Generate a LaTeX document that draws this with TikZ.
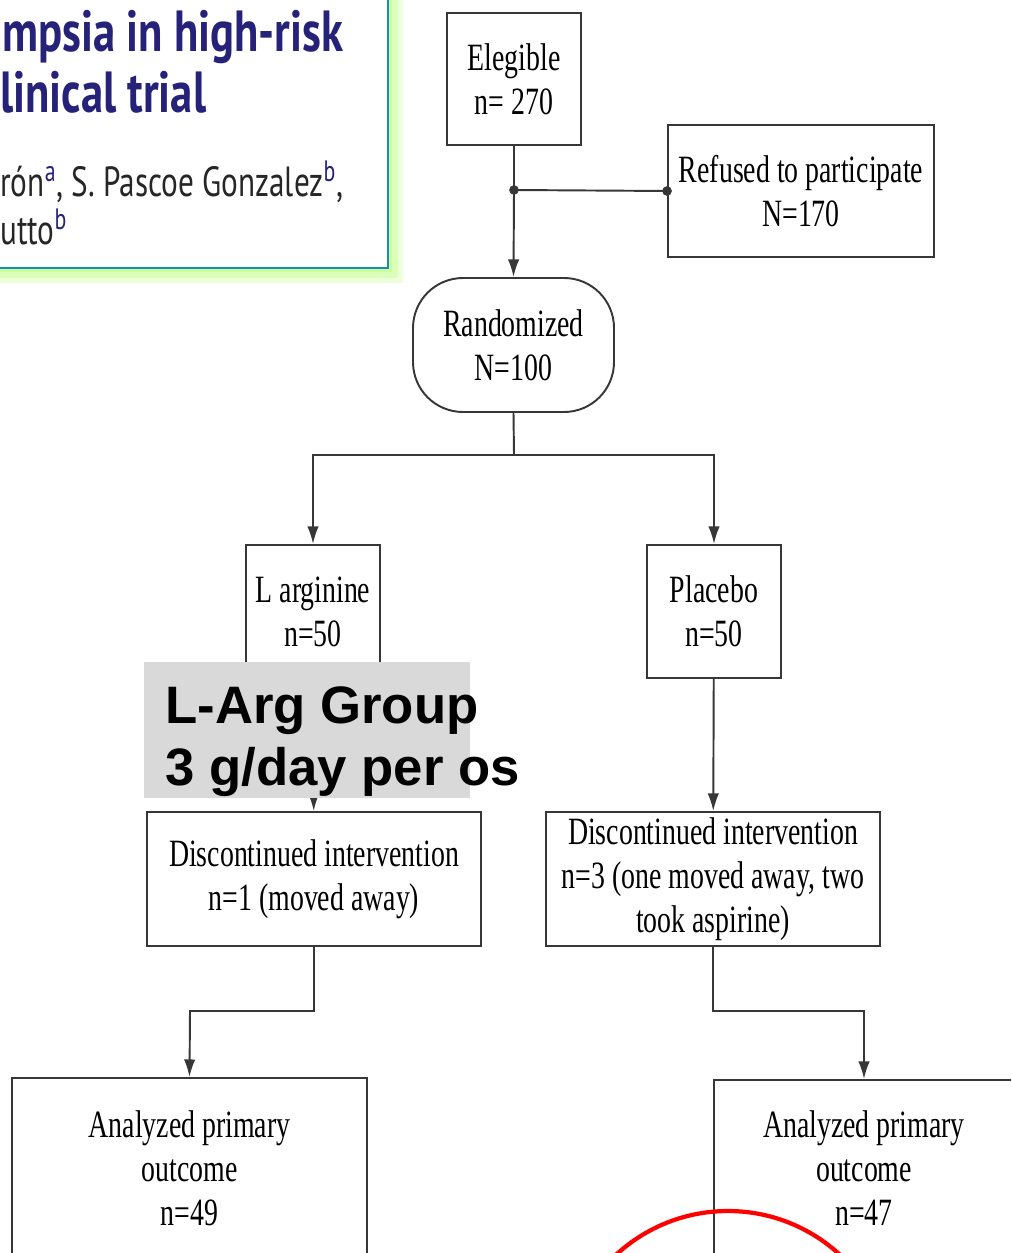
\documentclass[tikz,border=0pt]{standalone}
\usepackage{fontspec}
\usetikzlibrary{arrows.meta}
\newfontfamily\trialfont[FakeStretch=0.72]{Liberation Serif}
\newfontfamily\titlefont[FakeStretch=0.77]{PT Sans}
\newfontfamily\authorfont[FakeStretch=0.74]{PT Sans}
\newfontfamily\notefont{Liberation Sans}
\definecolor{linegray}{RGB}{55,55,55}
\definecolor{titleblue}{RGB}{38,34,122}
\definecolor{frameblue}{RGB}{24,140,190}
\definecolor{glowgreen}{RGB}{204,255,153}
\definecolor{notegray}{RGB}{217,217,217}
\tikzset{
  box/.style={draw=linegray, line width=1.1pt, fill=white, align=center, inner sep=0pt,
    font={\trialfont\fontsize{22}{25}\selectfont}},
  boxsize/.style 2 args={minimum width=#1*0.02cm, minimum height=#2*0.02cm},
  link/.style={draw=linegray, line width=1.1pt},
  arrow/.style={link, -{Latex[length=10pt,width=6.5pt]}},
  jdot/.style={circle, fill=linegray, inner sep=0pt, minimum size=5.5pt},
}

\begin{document}
\begin{tikzpicture}[x=0.02cm,y=-0.02cm]
\useasboundingbox (0,0) rectangle (1011,1253);
\clip (0,0) rectangle (1011,1253);

% title card, cut at the left
\draw[glowgreen!35, line width=17pt] (-40,-40) rectangle (388,268);
\draw[glowgreen!70, line width=11pt] (-40,-40) rectangle (388,268);
\draw[glowgreen, line width=5pt] (-40,-40) rectangle (388,268);
\draw[frameblue, line width=1.4pt, fill=white] (-40,-40) rectangle (388,268);
\node[anchor=base west, inner sep=0pt, text=titleblue, font={\titlefont\bfseries\fontsize{33}{38}\selectfont}] (title1) at (2,52) {mpsia in high-risk};
\node[anchor=base west, inner sep=0pt, text=titleblue, font={\titlefont\bfseries\fontsize{33}{38}\selectfont}] (title2) at (0,113) {linical trial};
\node[anchor=base west, inner sep=0pt, text=black!85, font={\authorfont\fontsize{24}{28}\selectfont}] (auth1) at (0,197) {rón\textsuperscript{\color{titleblue}a}, S. Pascoe Gonzalez\textsuperscript{\color{titleblue}b},};
\node[anchor=base west, inner sep=0pt, text=black!85, font={\authorfont\fontsize{24}{28}\selectfont}] (auth2) at (0,245) {utto\textsuperscript{\color{titleblue}b}};

% flow boxes
\node[box, boxsize={134}{132}] (elig) at (514,79) {Elegible\\n= 270};
\node[box, boxsize={266}{132}] (refused) at (801,191) {Refused to participate\\N=170};
\node[box, boxsize={201}{134}, rounded corners=1cm] (rand) at (513.5,345) {Randomized\\N=100};
\node[box, boxsize={134}{133}] (larg) at (313,611.5) {L arginine\\n=50};
\node[box, boxsize={134}{133}] (plac) at (714,611.5) {Placebo\\n=50};
\node[box, boxsize={334}{134}] (disL) at (314,879) {Discontinued intervention\\n=1 (moved away)};
\node[box, boxsize={334}{134}] (disR) at (713,879) {Discontinued intervention\\n=3 (one moved away, two\\took aspirine)};
\node[box, boxsize={355}{180}] (anaL) at (189.5,1168) {Analyzed primary\\outcome\\n=49};
\node[box, boxsize={300}{176}] (anaR) at (864,1168) {Analyzed primary\\outcome\\n=47};

\coordinate (j1) at (514,190);
\coordinate (split) at (514,455);
\coordinate (bendL) at (190,1011);
\coordinate (bendR) at (864,1011);

% connectors
\draw[link] (elig) -- (j1) -- (refused.west);
\draw[arrow] (j1) -- (rand.north);
\node[jdot] (d1) at (j1) {};
\node[jdot] (d2) at (refused.west) {};
\draw[arrow] (rand.south) -- (split) -| (larg.north);
\draw[arrow] (split) -| (plac.north);
\draw[arrow] (larg) -- (disL);
\draw[arrow] (plac) -- (disR);
\draw[arrow] (disL.south) |- (bendL) -- (anaL.north);
\draw[arrow] (disR.south) |- (bendR) -- (anaR.north);

% dose note laid over the left arm
\fill[notegray] (144,662) rectangle (470,798);
\node[anchor=base west, inner sep=0pt, font={\notefont\bfseries\fontsize{30}{35}\selectfont}] (dose1) at (165,723) {L-Arg Group};
\node[anchor=base west, inner sep=0pt, font={\notefont\bfseries\fontsize{30}{35}\selectfont}] (dose2) at (165,785) {3 g/day per os};

% red mark
\draw[red, line width=2.4pt] (728,1376) circle (165);
\end{tikzpicture}
\end{document}
